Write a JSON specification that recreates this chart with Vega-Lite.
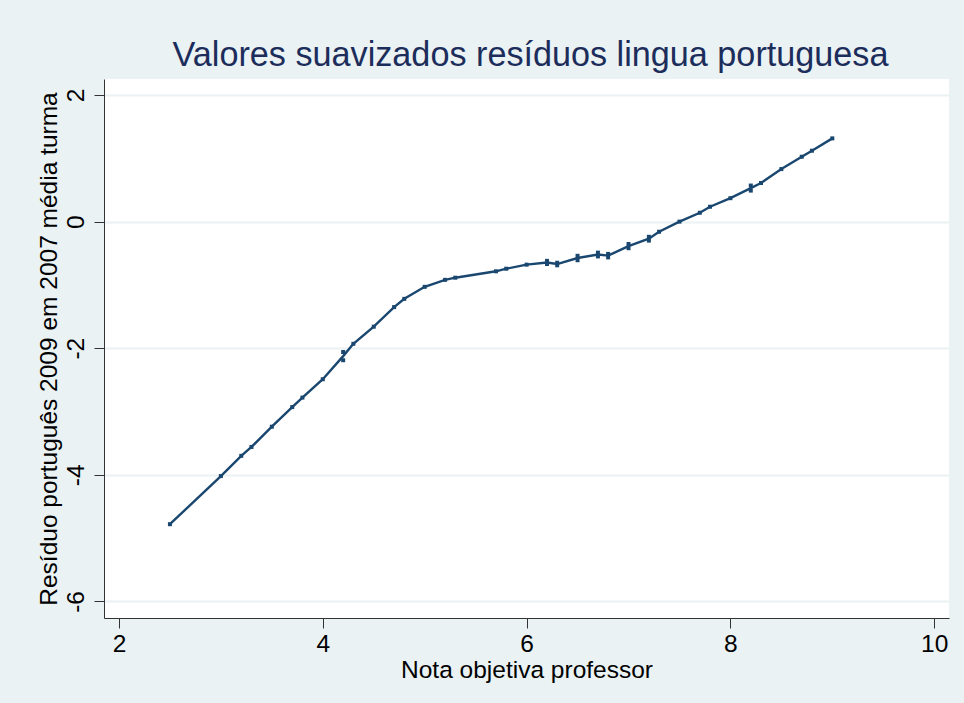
{
  "$schema": "https://vega.github.io/schema/vega-lite/v6.json",
  "width": 845,
  "height": 539,
  "autosize": {"type": "none"},
  "padding": {"left": 104, "top": 79, "right": 15, "bottom": 85},
  "background": "#EAF2F3",
  "config": {
    "view": {"fill": "white", "stroke": null},
    "font": "Liberation Sans"
  },
  "title": {
    "text": "Valores suavizados resíduos lingua portuguesa",
    "fontSize": 34.2,
    "font": "Liberation Sans",
    "fontWeight": "normal",
    "color": "#1C2D5C",
    "anchor": "middle",
    "baseline": "alphabetic",
    "offset": 13,
    "dx": 4,
    "dy": 34
  },
  "data": {
    "values": [
      {"nota": 2.5, "residuo": -4.78},
      {"nota": 3.0, "residuo": -4.02},
      {"nota": 3.2, "residuo": -3.70},
      {"nota": 3.3, "residuo": -3.56},
      {"nota": 3.5, "residuo": -3.24},
      {"nota": 3.7, "residuo": -2.93},
      {"nota": 3.8, "residuo": -2.78},
      {"nota": 4.0, "residuo": -2.49},
      {"nota": 4.2, "residuo": -2.19},
      {"nota": 4.2, "residuo": -2.06},
      {"nota": 4.3, "residuo": -1.93},
      {"nota": 4.5, "residuo": -1.66},
      {"nota": 4.7, "residuo": -1.35},
      {"nota": 4.8, "residuo": -1.22},
      {"nota": 5.0, "residuo": -1.03},
      {"nota": 5.2, "residuo": -0.92},
      {"nota": 5.3, "residuo": -0.886},
      {"nota": 5.7, "residuo": -0.785},
      {"nota": 5.8, "residuo": -0.744},
      {"nota": 6.0, "residuo": -0.68},
      {"nota": 6.2, "residuo": -0.67},
      {"nota": 6.2, "residuo": -0.62},
      {"nota": 6.3, "residuo": -0.69},
      {"nota": 6.3, "residuo": -0.65},
      {"nota": 6.5, "residuo": -0.61},
      {"nota": 6.5, "residuo": -0.54},
      {"nota": 6.7, "residuo": -0.55},
      {"nota": 6.7, "residuo": -0.49},
      {"nota": 6.8, "residuo": -0.51},
      {"nota": 6.8, "residuo": -0.565},
      {"nota": 7.0, "residuo": -0.42},
      {"nota": 7.0, "residuo": -0.354},
      {"nota": 7.2, "residuo": -0.30},
      {"nota": 7.2, "residuo": -0.24},
      {"nota": 7.3, "residuo": -0.16},
      {"nota": 7.5, "residuo": 0.0},
      {"nota": 7.7, "residuo": 0.14},
      {"nota": 7.8, "residuo": 0.235},
      {"nota": 8.0, "residuo": 0.37},
      {"nota": 8.2, "residuo": 0.49},
      {"nota": 8.2, "residuo": 0.57},
      {"nota": 8.3, "residuo": 0.61},
      {"nota": 8.5, "residuo": 0.83},
      {"nota": 8.7, "residuo": 1.025},
      {"nota": 8.8, "residuo": 1.12},
      {"nota": 9.0, "residuo": 1.315}
    ]
  },
  "encoding": {
    "x": {
      "field": "nota",
      "type": "quantitative",
      "scale": {"domain": [1.853, 10.145], "nice": false, "zero": false},
      "axis": {
        "values": [2, 4, 6, 8, 10],
        "grid": false,
        "tickSize": 10,
        "tickColor": "#333333",
        "domainColor": "#333333",
        "labelFontSize": 24.5,
        "labelColor": "#000000",
        "labelPadding": 4,
        "labelFlush": false,
        "title": "Nota objetiva professor",
        "titleFontSize": 24.5,
        "titleFontWeight": "normal",
        "titleColor": "#000000",
        "titlePadding": 3
      }
    },
    "y": {
      "field": "residuo",
      "type": "quantitative",
      "scale": {"domain": [-6.262, 2.253], "nice": false, "zero": false},
      "axis": {
        "values": [-6, -4, -2, 0, 2],
        "labelExpr": "replace(datum.label, '−', '-')",
        "grid": true,
        "gridColor": "#EAF2F3",
        "gridWidth": 2,
        "tickSize": 10,
        "tickColor": "#333333",
        "domainColor": "#333333",
        "labelFontSize": 24.5,
        "labelColor": "#000000",
        "labelAngle": 270,
        "labelPadding": 6,
        "labelFlush": false,
        "title": "Resíduo português 2009 em 2007 média turma",
        "titleFontSize": 24.5,
        "titleFontWeight": "normal",
        "titleColor": "#000000",
        "titlePadding": 2
      }
    }
  },
  "layer": [
    {
      "transform": [{"aggregate": [{"op": "mean", "field": "residuo", "as": "residuo"}], "groupby": ["nota"]}],
      "mark": {"type": "line", "color": "#1A476F", "strokeWidth": 2.4}
    },
    {"mark": {"type": "point", "shape": "square", "filled": true, "size": 16, "color": "#1A476F", "opacity": 1}}
  ]
}
